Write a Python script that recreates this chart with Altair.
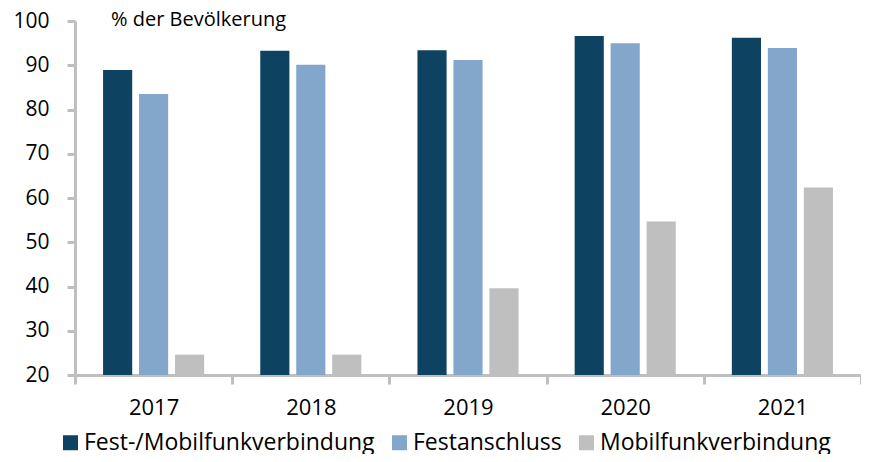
import altair as alt
import pandas as pd

years = ["2017", "2018", "2019", "2020", "2021"]
series = ["Fest-/Mobilfunkverbindung", "Festanschluss", "Mobilfunkverbindung"]
fest_mobil = [88.9, 93.3, 93.4, 96.6, 96.2]
festanschluss = [83.5, 90.1, 91.2, 95.0, 93.9]
mobilfunk = [24.6, 24.6, 39.6, 54.7, 62.4]
colors = ["#0D4361", "#82A7CB", "#BFBFBF"]

rows = []
for s, vals in zip(series, [fest_mobil, festanschluss, mobilfunk]):
    for y, v in zip(years, vals):
        rows.append({"Jahr": y, "Reihe": s, "Wert": v})
df = pd.DataFrame(rows)

FONT = "Open Sans"
AX = "#BFBFBF"

bars = alt.Chart(df).mark_bar().encode(
    x=alt.X("Jahr:N", sort=years, title=None,
            scale=alt.Scale(paddingInner=0, paddingOuter=0),
            axis=alt.Axis(labelAngle=0, tickBand="extent", domainColor=AX, domainWidth=3,
                          tickColor=AX, tickWidth=3, tickSize=9, labelPadding=13,
                          labelFontSize=22, labelFont=FONT, labelColor="black")),
    xOffset=alt.XOffset("Reihe:N", sort=series,
                        scale=alt.Scale(paddingInner=0.19, paddingOuter=0.78)),
    y=alt.Y("Wert:Q", title=None,
            scale=alt.Scale(domain=[20, 100], zero=False, nice=False, clamp=True),
            axis=alt.Axis(values=[20, 30, 40, 50, 60, 70, 80, 90, 100], grid=False,
                          domainColor=AX, domainWidth=3, tickColor=AX, tickWidth=3,
                          tickSize=8, labelPadding=18, labelFontSize=21, labelFont=FONT,
                          labelColor="black")),
    color=alt.Color("Reihe:N", sort=series,
                    scale=alt.Scale(domain=series, range=colors),
                    legend=alt.Legend(title=None, orient="none", direction="horizontal",
                                      legendX=-16, legendY=410, symbolType="square",
                                      symbolSize=225, symbolStrokeWidth=0,
                                      labelFontSize=23, labelFont=FONT, labelColor="black",
                                      labelLimit=500, labelOffset=2, columnPadding=13,
                                      padding=0)),
)

title = alt.Chart(pd.DataFrame({"t": ["% der Bevölkerung"]})).mark_text(
    align="left", baseline="middle", fontSize=20, font=FONT, color="black"
).encode(text="t:N", x=alt.value(36), y=alt.value(-1))

chart = alt.layer(bars, title).properties(
    width=786, height=354,
    autosize=alt.AutoSizeParams(type="none"),
    padding={"left": 67, "top": 13, "right": 0, "bottom": 79},
).configure_view(stroke=None)

chart.save("out.html", embed_options={"renderer": "svg", "actions": False})
